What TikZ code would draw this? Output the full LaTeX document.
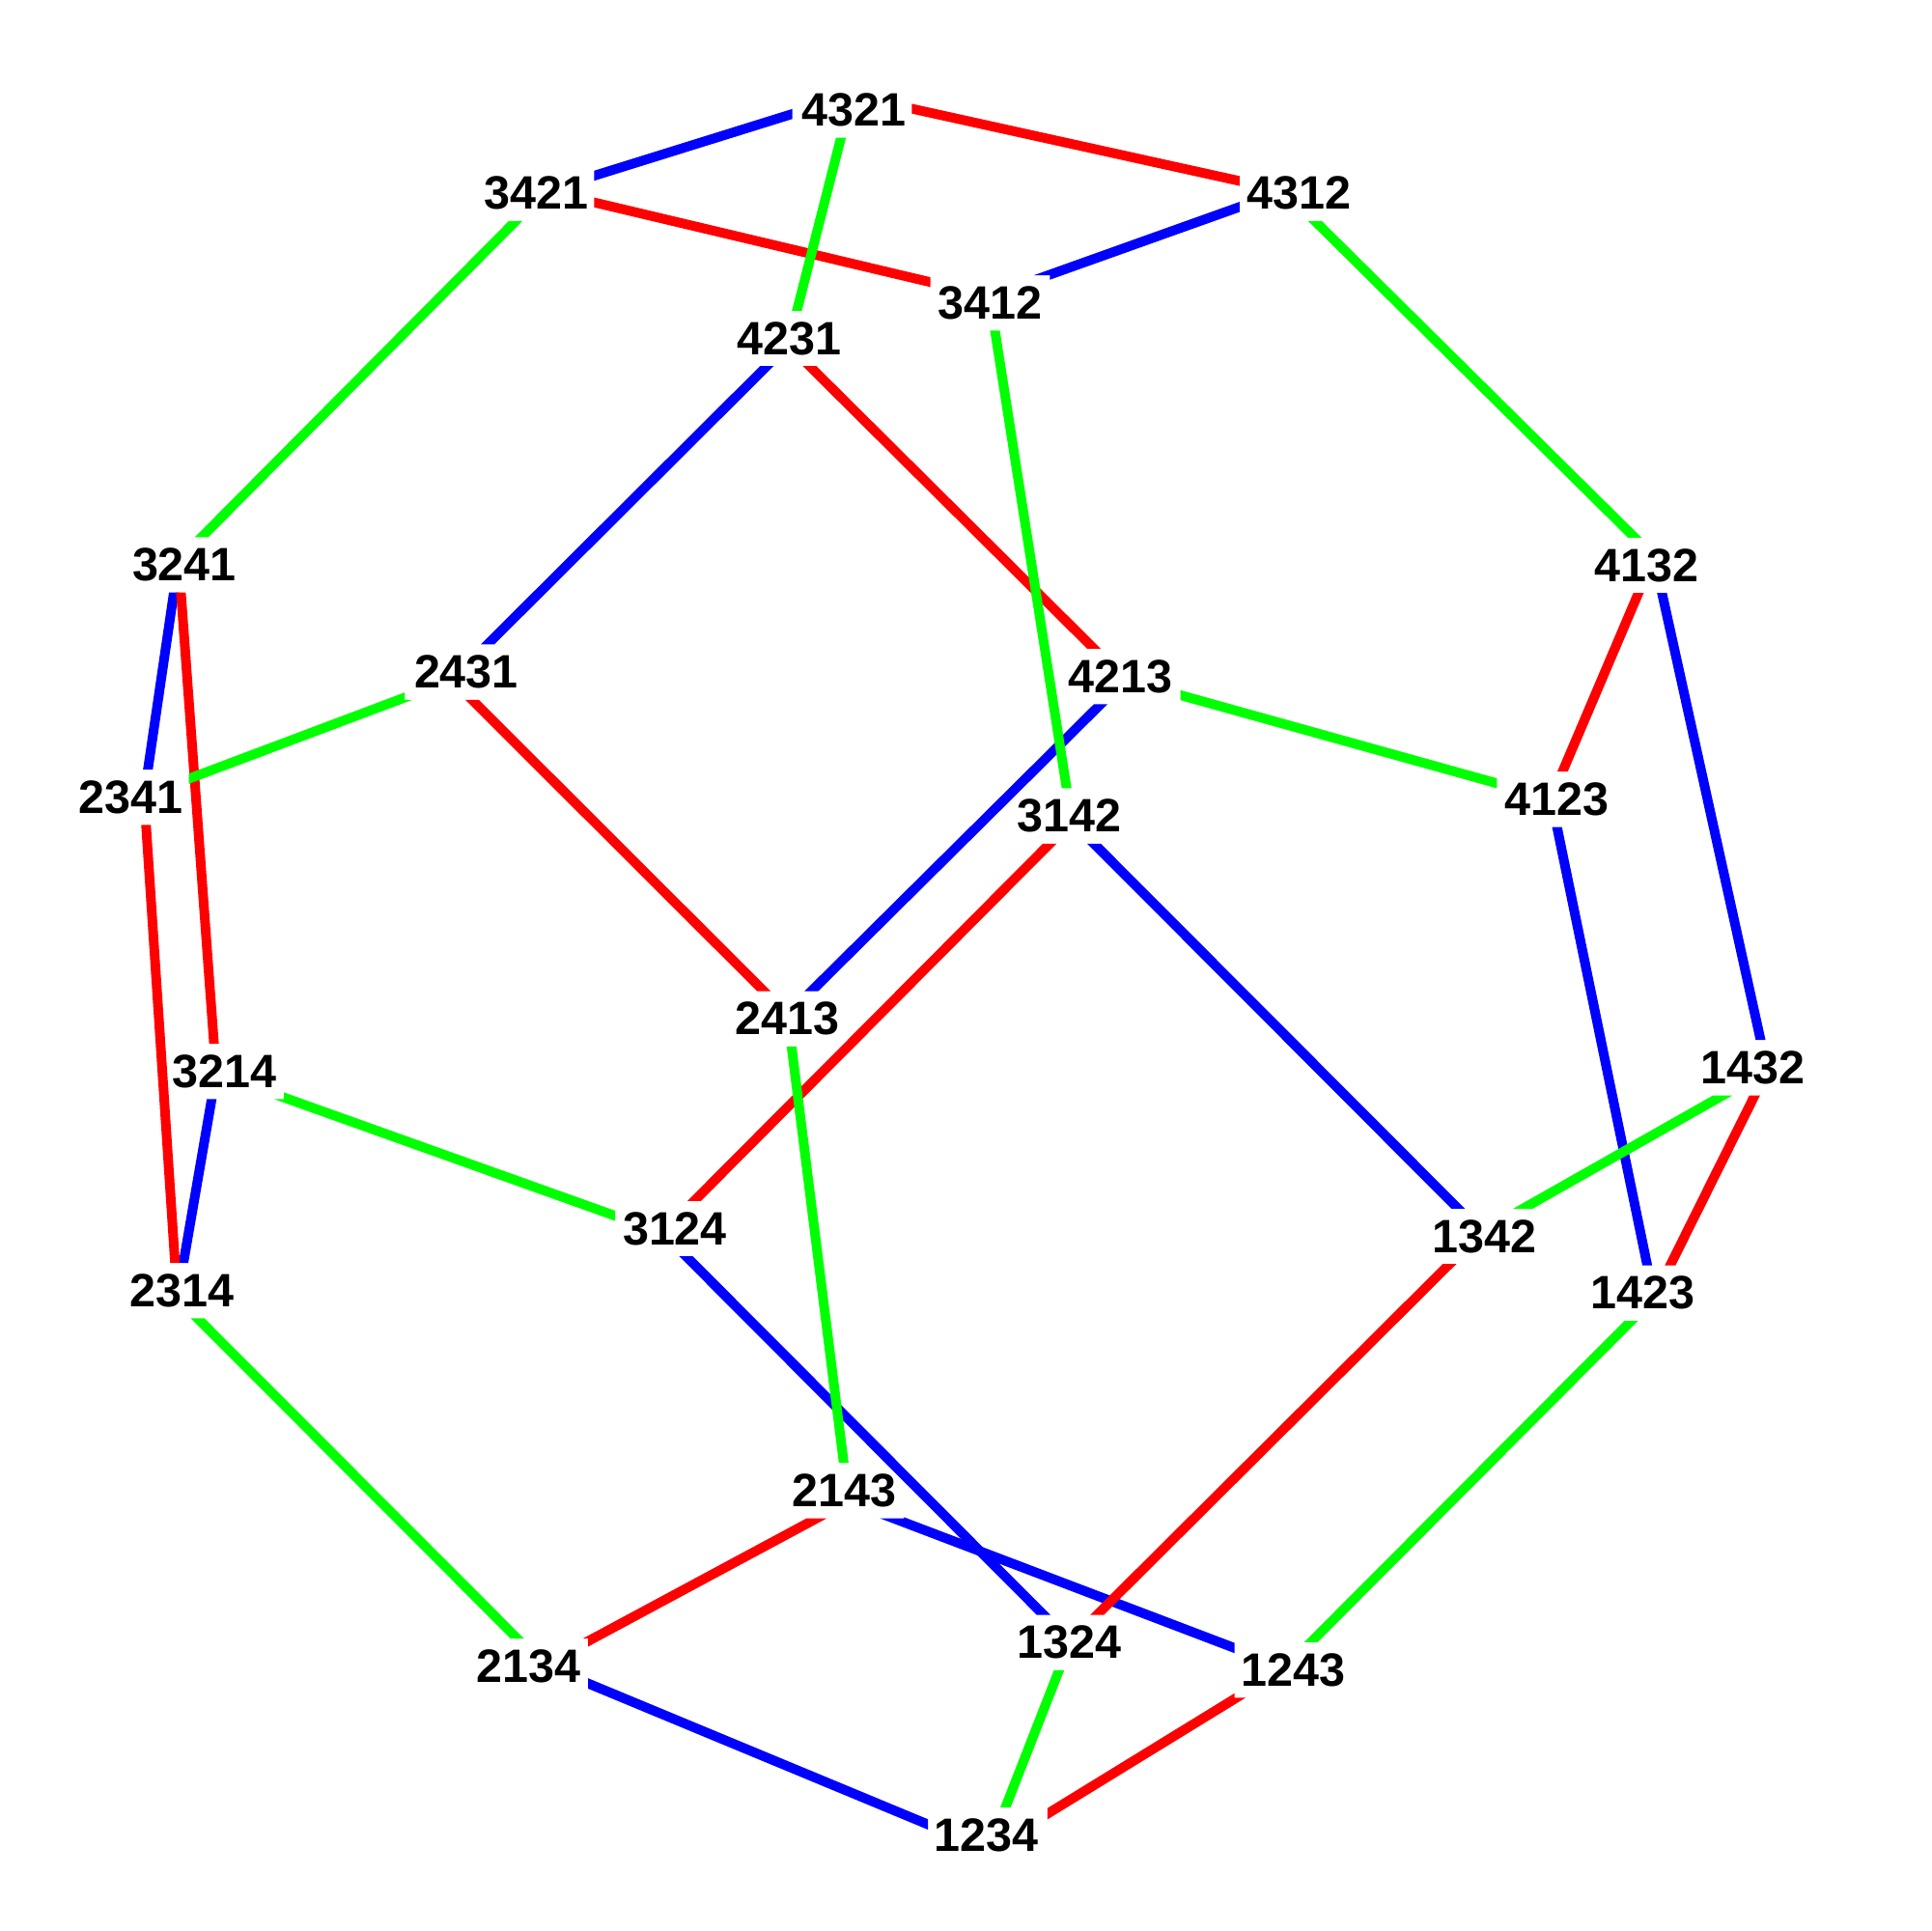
\documentclass[tikz,border=0pt]{standalone}
\usepackage{fontspec}
\setmainfont{Liberation Sans}
\definecolor{eR}{RGB}{255,0,0}
\definecolor{eG}{RGB}{0,255,0}
\definecolor{eB}{RGB}{0,0,255}
% vertex point, label centre, label shift
\newcommand\pvert[6]{%
  \coordinate (v#1) at (#2,#3);
  \coordinate (t#1) at (#4,#5);
  \node[lab] (l#1) at ([xshift=#6]t#1) {#1};}
% edge from vertex to vertex, cut off by the two label boxes
\newcommand\pedge[3]{%
  \begin{scope}[even odd rule]
    \clip (-20,-20) rectangle (1600,1600)
      (t#2) ++(-48.5,-22.5) rectangle ++(97,45)
      (t#3) ++(-48.5,-22.5) rectangle ++(97,45);
    \draw[#1] (v#2) -- (v#3);
  \end{scope}}
\begin{document}
\begin{tikzpicture}[x=1pt,y=-1pt,
  lab/.style={inner sep=0pt, font=\fontsize{38}{40}\selectfont\bfseries},
  eb/.style={draw=eB, line width=7.8pt},
  er/.style={draw=eR, line width=7.8pt},
  eg/.style={draw=eG, line width=7.8pt}]
\useasboundingbox (0,0) rectangle (1568,1568);
\pvert{4321}{691.6}{77.5}{691.9}{89.4}{1.5}
\pvert{3421}{443}{155}{434}{157}{1.5}
\pvert{4312}{1043}{155}{1055}{157}{0}
\pvert{3412}{803.5}{240.5}{804}{246}{0}
\pvert{4231}{640}{280}{639.4}{274.8}{1.5}
\pvert{3241}{145}{455}{148.2}{458.6}{1.5}
\pvert{4132}{1343}{452}{1337}{459}{0}
\pvert{2431}{367}{552}{377.1}{545.7}{1.5}
\pvert{4213}{913.7}{552}{910}{549.3}{0}
\pvert{2341}{117}{646}{104.8}{647.4}{1.5}
\pvert{4123}{1259.5}{648.3}{1264}{649}{0}
\pvert{3142}{870.3}{667}{868.5}{662.6}{0}
\pvert{2413}{639.5}{824}{639.4}{827.3}{0}
\pvert{3214}{175.5}{871.5}{182}{870}{0}
\pvert{1432}{1435}{869}{1424}{867}{-1}
\pvert{3124}{538}{1001}{548}{997.6}{0}
\pvert{1342}{1203}{1000.5}{1206.2}{1003.9}{-1}
\pvert{2314}{144}{1054}{148}{1048}{0}
\pvert{1423}{1343}{1054}{1335}{1050}{-1}
\pvert{2143}{689}{1219}{685.6}{1210.4}{0}
\pvert{1324}{869}{1333}{869.2}{1333.8}{-1}
\pvert{2134}{441.5}{1352}{429}{1353}{0}
\pvert{1243}{1044}{1354}{1051}{1356}{-1}
\pvert{1234}{803}{1502}{802}{1490}{-1}
% blue edges
\pedge{eb}{4321}{3421}
\pedge{eb}{4312}{3412}
\pedge{eb}{4231}{2431}
\pedge{eb}{3241}{2341}
\pedge{eb}{4132}{1432}
\pedge{eb}{4213}{2413}
\pedge{eb}{4123}{1423}
\pedge{eb}{3142}{1342}
\pedge{eb}{3214}{2314}
\pedge{eb}{3124}{1324}
\pedge{eb}{2143}{1243}
\pedge{eb}{2134}{1234}
% red edges
\pedge{er}{4321}{4312}
\pedge{er}{3421}{3412}
\pedge{er}{4231}{4213}
\pedge{er}{3241}{3214}
\pedge{er}{4132}{4123}
\pedge{er}{2431}{2413}
\pedge{er}{2341}{2314}
\pedge{er}{3142}{3124}
\pedge{er}{1432}{1423}
\pedge{er}{1342}{1324}
\pedge{er}{2143}{2134}
\pedge{er}{1243}{1234}
% green edges
\pedge{eg}{4321}{4231}
\pedge{eg}{3421}{3241}
\pedge{eg}{4312}{4132}
\pedge{eg}{3412}{3142}
\pedge{eg}{2431}{2341}
\pedge{eg}{4213}{4123}
\pedge{eg}{2413}{2143}
\pedge{eg}{3214}{3124}
\pedge{eg}{1432}{1342}
\pedge{eg}{2314}{2134}
\pedge{eg}{1423}{1243}
\pedge{eg}{1324}{1234}
\end{tikzpicture}
\end{document}
